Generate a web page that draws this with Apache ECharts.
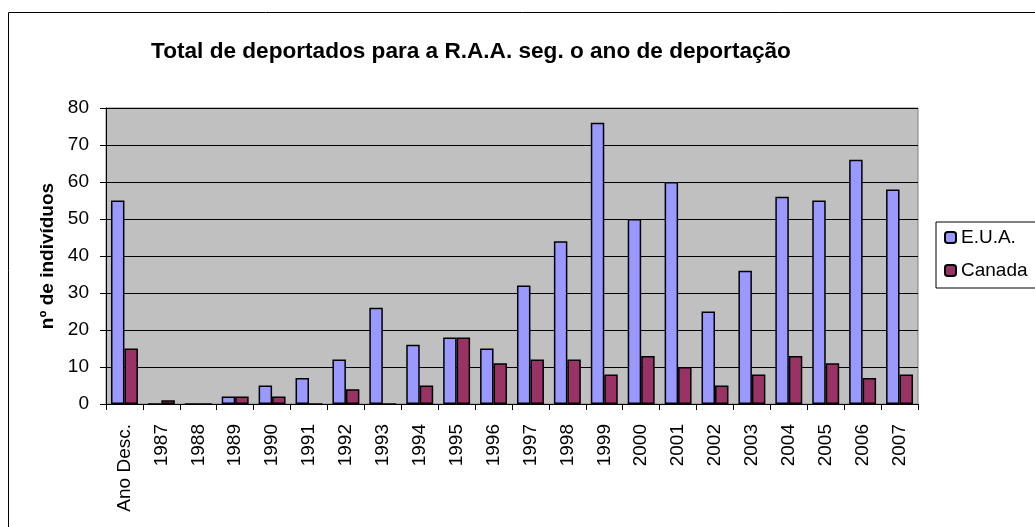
<!DOCTYPE html>
<html>
<head>
<meta charset="utf-8">
<script src="https://cdn.jsdelivr.net/npm/echarts@6/dist/echarts.min.js"></script>
<style>
  html, body { margin: 0; padding: 0; background: #fff; }
  #chart { width: 1035px; height: 527px; }
</style>
</head>
<body>
<div id="chart"></div>
<script>
const categories = ['Ano Desc.', '1987', '1988', '1989', '1990', '1991', '1992', '1993', '1994', '1995', '1996',
  '1997', '1998', '1999', '2000', '2001', '2002', '2003', '2004', '2005', '2006', '2007'];
const eua = [55, 0, 0, 2, 5, 7, 12, 26, 16, 18, 15, 32, 44, 76, 50, 60, 25, 36, 56, 55, 66, 58];
const canada = [15, 1, 0, 2, 2, 0, 4, 0, 5, 18, 11, 12, 12, 8, 13, 10, 5, 8, 13, 11, 7, 8];
const yTicks = [0, 10, 20, 30, 40, 50, 60, 70, 80];

const font = 'Liberation Sans, Arial, sans-serif';
const chart = echarts.init(document.getElementById('chart'));

chart.setOption({
  animation: false,
  textStyle: { fontFamily: font, color: '#000' },
  title: {
    text: 'Total de deportados para a R.A.A. seg. o ano de deportação',
    left: 466, top: 35, textAlign: 'center',
    textStyle: { fontFamily: font, fontSize: 22.6, fontWeight: 'bold', color: '#000' }
  },
  graphic: [{
    type: 'rect', shape: { x: 8.5, y: 12.5, width: 1040, height: 530 },
    style: { fill: 'none', stroke: '#000', lineWidth: 1 }, z: -10
  }],
  legend: {
    orient: 'vertical', left: 936, top: 222,
    backgroundColor: '#fff', borderColor: '#000', borderWidth: 1,
    padding: [6, 30, 8, 8],
    itemWidth: 11, itemHeight: 11, itemGap: 14,
    textStyle: { fontFamily: font, fontSize: 19, color: '#000' },
    data: ['E.U.A.', 'Canada']
  },
  grid: { left: 106, right: 117, top: 108, bottom: 123, show: true, backgroundColor: '#c0c0c0', borderColor: '#808080', borderWidth: 1 },
  xAxis: {
    type: 'category', data: categories,
    axisLine: { lineStyle: { color: '#000' } },
    axisTick: { show: true, length: 6, alignWithLabel: false, lineStyle: { color: '#000' } },
    axisLabel: { rotate: 90, fontSize: 19, color: '#000', margin: 20, fontFamily: font }
  },
  yAxis: {
    type: 'value', min: 0, max: 80, interval: 10,
    name: 'nº de indivíduos', nameLocation: 'middle', nameGap: 35, nameRotate: 90,
    nameTextStyle: { fontFamily: font, fontSize: 19, fontWeight: 'bold', color: '#000' },
    axisLine: { show: true, lineStyle: { color: '#000' } },
    axisTick: { show: true, length: 6, lineStyle: { color: '#000' } },
    axisLabel: { fontSize: 19, color: '#000', margin: 17, fontFamily: font,
      formatter: v => yTicks.includes(v) ? String(v) : '' },
    splitLine: { show: true, lineStyle: { color: '#000', width: 1 } }
  },
  series: [
    { name: 'E.U.A.', type: 'bar', data: eua, barGap: 0, barCategoryGap: '27%',
      itemStyle: { color: '#9999ff', borderColor: '#000', borderWidth: 1.5 } },
    { name: 'Canada', type: 'bar', data: canada,
      itemStyle: { color: '#993366', borderColor: '#000', borderWidth: 1.5 } }
  ]
});
</script>
</body>
</html>
